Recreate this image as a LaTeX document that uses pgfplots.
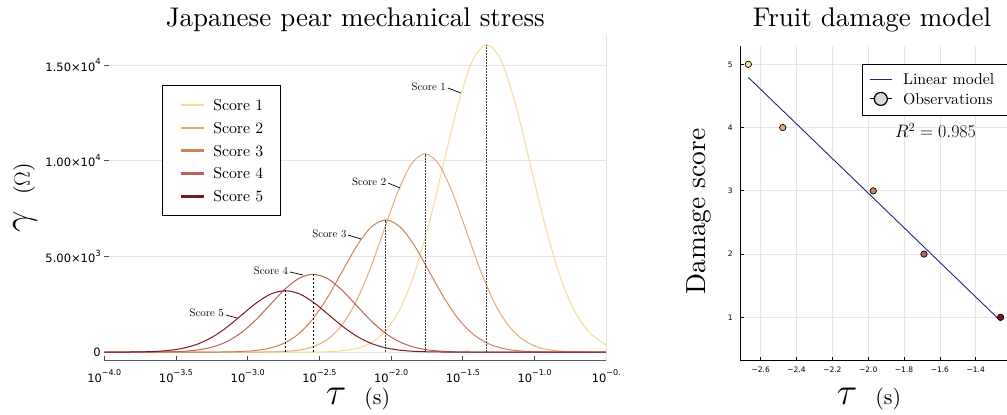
\documentclass[border=0pt]{standalone}
\usepackage{graphicx}
\usepackage{pgfplots}
\pgfplotsset{compat=1.18}
\usepackage{fontspec}
\setmainfont{lmroman10-regular.otf}[ItalicFont=lmroman10-italic.otf, BoldFont=lmroman10-bold.otf]
\newfontfamily\tickfont{DejaVu Sans}
\definecolor{sA}{RGB}{245,220,145}
\definecolor{sB}{RGB}{228,170,120}
\definecolor{sC}{RGB}{208,128,95}
\definecolor{sD}{RGB}{190,96,90}
\definecolor{sE}{RGB}{122,24,34}
\definecolor{navyc}{RGB}{35,35,125}
\newcommand{\sups}[1]{\raisebox{1.0ex}{\fontsize{8}{8}\selectfont #1}}
\newcommand{\supr}[1]{\raisebox{1.0ex}{\fontsize{8.5}{8.5}\selectfont #1}}
\newcommand{\bigsym}[1]{\scalebox{1.53}{\fontsize{24.88}{26}\selectfont$#1$}}
\begin{document}
\begin{tikzpicture}
\path[use as bounding box] (0pt,0pt) rectangle (1007pt,415pt);
% ---------------- left axis ----------------
\begin{axis}[
  at={(104.3pt,54.3pt)}, anchor=south west, scale only axis,
  width=502pt, height=325.7pt,
  xmin=-4, xmax=-0.5, ymin=-449, ymax=16568,
  axis x line*=bottom, axis y line*=left,
  y axis line style={draw=none},
  x axis line style={draw=black!65, line width=1.4pt},
  xtick={-4,-3.5,-3,-2.5,-2,-1.5,-1,-0.5},
  xticklabels={{10\sups{−4.0}},{10\sups{−3.5}},{10\sups{−3.0}},{10\sups{−2.5}},{10\sups{−2.0}},{10\sups{−1.5}},{10\sups{−1.0}},{10\sups{−0.}}},
  ytick={0,5000,10000,15000},
  yticklabels={{0},{5.00×10\supr{3}},{1.00×10\supr{4}},{1.50×10\supr{4}}},
  xticklabel style={font=\fontsize{11.5}{12}\tickfont, inner sep=1pt, yshift=-8pt},
  yticklabel style={font=\fontsize{11.5}{12}\tickfont},
  ymajorgrids, grid style={black!10, line width=0.7pt},
  tick align=inside, major tick length=5pt,
  tick style={black!70, line width=0.8pt},
  scaled y ticks=false,
  clip=false,
  legend style={at={(0.1143,0.8465)}, anchor=north west, draw=black, line width=1.2pt, fill=white,
    inner xsep=17pt, inner ysep=14pt, row sep=11.8pt, column sep=8pt,
    font=\fontsize{15.8}{19}\selectfont,
    nodes={inner sep=0pt, text height=11pt, text depth=0pt}},
  legend cell align=left,
  legend image code/.code={\draw[#1, line width=2.6pt] (0pt,0pt) -- (23.4pt,0pt);},
]
\addplot[sA, line width=1pt, smooth] coordinates {(-4,0) (-2.655,1) (-2.553,5) (-2.452,19) (-2.350,62) (-2.248,178) (-2.147,459) (-2.045,1055) (-1.943,2173) (-1.842,4005) (-1.740,6602) (-1.638,9740) (-1.536,12859) (-1.435,15193) (-1.333,16060) (-1.231,15193) (-1.130,12859) (-1.028,9740) (-0.926,6602) (-0.825,4005) (-0.723,2173) (-0.621,1055) (-0.519,456) (-0.5,385)};
\addlegendentry{Score 1}
\addplot[sB, line width=1pt, smooth] coordinates {(-4,0) (-3.021,1) (-2.924,3.5) (-2.828,12.5) (-2.731,40) (-2.634,115) (-2.538,296) (-2.441,681) (-2.344,1403) (-2.248,2585) (-2.151,4261) (-2.054,6287) (-1.957,8300) (-1.861,9806) (-1.764,10366) (-1.667,9806) (-1.571,8300) (-1.474,6287) (-1.377,4261) (-1.281,2585) (-1.184,1403) (-1.087,681) (-0.991,296) (-0.894,115) (-0.797,40) (-0.700,12.5) (-0.604,3.5) (-0.5,1)};
\addlegendentry{Score 2}
\addplot[sC, line width=1pt, smooth] coordinates {(-4,0) (-3.360,0.6) (-3.258,2) (-3.157,8) (-3.055,27) (-2.953,77) (-2.852,197) (-2.750,453) (-2.648,934) (-2.547,1721) (-2.445,2837) (-2.343,4186) (-2.241,5527) (-2.140,6529) (-2.038,6902) (-1.936,6529) (-1.835,5527) (-1.733,4186) (-1.631,2837) (-1.530,1721) (-1.428,934) (-1.326,453) (-1.224,197) (-1.123,77) (-1.021,27) (-0.919,8) (-0.818,2) (-0.716,0.6) (-0.5,0)};
\addlegendentry{Score 3}
\addplot[sD, line width=1pt, smooth] coordinates {(-4,0) (-3.845,0.3) (-3.745,1.4) (-3.645,5) (-3.545,16) (-3.445,45) (-3.345,116) (-3.245,267) (-3.145,550) (-3.045,1014) (-2.945,1671) (-2.845,2465) (-2.745,3255) (-2.645,3845) (-2.545,4065) (-2.445,3845) (-2.345,3255) (-2.245,2465) (-2.145,1671) (-2.045,1014) (-1.945,550) (-1.845,267) (-1.745,116) (-1.645,45) (-1.545,16) (-1.445,5) (-1.345,1.4) (-1.245,0.3) (-0.5,0)};
\addlegendentry{Score 4}
\addplot[sE, line width=1pt, smooth] coordinates {(-4,0.5) (-3.950,1.1) (-3.849,3.9) (-3.748,12.4) (-3.647,36) (-3.546,92) (-3.445,211) (-3.344,434) (-3.243,800) (-3.142,1319) (-3.041,1946) (-2.940,2569) (-2.839,3035) (-2.738,3208) (-2.637,3035) (-2.536,2569) (-2.435,1946) (-2.334,1319) (-2.233,800) (-2.132,434) (-2.031,211) (-1.930,92) (-1.829,36) (-1.728,12.4) (-1.627,3.9) (-1.526,1.1) (-1.425,0.3) (-0.5,0)};
\addlegendentry{Score 5}
% peak markers
\addplot[forget plot, black!75, dash pattern=on 2pt off 1pt, line width=0.8pt] coordinates {(-1.333,0) (-1.333,16060)};
\addplot[forget plot, black!75, dash pattern=on 2pt off 1pt, line width=0.8pt] coordinates {(-1.764,0) (-1.764,10366)};
\addplot[forget plot, black!75, dash pattern=on 2pt off 1pt, line width=0.8pt] coordinates {(-2.038,0) (-2.038,6902)};
\addplot[forget plot, black, dash pattern=on 2.5pt off 1.5pt, line width=0.8pt] coordinates {(-2.545,0) (-2.545,4065)};
\addplot[forget plot, black, dash pattern=on 2.5pt off 1.5pt, line width=0.8pt] coordinates {(-2.738,0) (-2.738,3208)};
% right frame line
\draw[black!12, line width=0.8pt] (rel axis cs:1,0) -- (rel axis cs:1,1);
% annotations
\begin{scope}[every node/.style={anchor=east, inner sep=0pt, font=\fontsize{10.8}{12}\selectfont}]
\node at (axis cs:-1.617,13847) {Score 1};
\draw[black, line width=0.7pt] (axis cs:-1.603,13795) -- (axis cs:-1.513,13534);
\node at (axis cs:-2.033,8888) {Score 2};
\draw[black, line width=0.7pt] (axis cs:-2.022,8835) -- (axis cs:-1.938,8574);
\node at (axis cs:-2.310,6171) {Score 3};
\draw[black, line width=0.7pt] (axis cs:-2.301,6119) -- (axis cs:-2.210,5910);
\node at (axis cs:-2.717,4237) {Score 4};
\draw[black, line width=0.7pt] (axis cs:-2.705,4185) -- (axis cs:-2.614,4028);
\node at (axis cs:-3.165,2043) {Score 5};
\draw[black, line width=0.7pt] (axis cs:-3.151,1938) -- (axis cs:-3.075,1782);
\end{scope}
\end{axis}
% ---------------- right axis ----------------
\begin{axis}[
  at={(740.7pt,54.3pt)}, anchor=south west, scale only axis,
  width=266pt, height=314.7pt,
  xmin=-2.7116, xmax=-1.2272, ymin=0.314, ymax=5.29,
  axis x line*=bottom, axis y line*=left,
  axis line style={black, line width=0.8pt},
  xtick={-2.6,-2.4,-2.2,-2.0,-1.8,-1.6,-1.4},
  xticklabels={−2.6,−2.4,−2.2,−2.0,−1.8,−1.6,−1.4},
  ytick={1,2,3,4,5}, yticklabels={1,2,3,4,5},
  xticklabel style={font=\fontsize{7.5}{8}\tickfont, yshift=-2.5pt},
  yticklabel style={font=\fontsize{7.5}{8}\tickfont, xshift=-4.5pt},
  grid=major, grid style={black!10, line width=0.7pt},
  tick align=inside, major tick length=3.5pt,
  tick style={black, line width=0.7pt},
  clip=false,
  legend style={at={(0.457,0.9418)}, anchor=north west, draw=black, line width=1pt, fill=white,
    inner xsep=6.7pt, inner ysep=9pt, row sep=7pt, column sep=11pt,
    font=\fontsize{15.8}{19}\selectfont,
    nodes={inner sep=0pt, text height=11pt, text depth=0pt}},
  legend cell align=left,
]
\addlegendimage{legend image code/.code={\draw[navyc, line width=1pt] (0pt,0pt) -- (21.7pt,0pt);}}
\addlegendentry{\makebox[112pt][l]{Linear model}}
\addlegendimage{legend image code/.code={\path (0pt,0pt) -- (21.7pt,0pt); \draw[black, fill=black!15, line width=1.2pt] (10.85pt,0pt) circle (6.5pt);}}
\addlegendentry{\makebox[112pt][l]{Observations}}
\addplot[forget plot, navyc, line width=0.9pt] coordinates {(-2.669,4.793) (-1.261,0.942)};
\addplot[forget plot, only marks, mark=*, mark size=3.2pt, mark options={draw=black, fill=sA, line width=0.7pt}] coordinates {(-2.669,5)};
\addplot[forget plot, only marks, mark=*, mark size=3.2pt, mark options={draw=black, fill=sB, line width=0.7pt}] coordinates {(-2.477,4)};
\addplot[forget plot, only marks, mark=*, mark size=3.2pt, mark options={draw=black, fill=sC, line width=0.7pt}] coordinates {(-1.972,3)};
\addplot[forget plot, only marks, mark=*, mark size=3.2pt, mark options={draw=black, fill=sD, line width=0.7pt}] coordinates {(-1.689,2)};
\addplot[forget plot, only marks, mark=*, mark size=3.2pt, mark options={draw=black, fill=sE, line width=0.7pt}] coordinates {(-1.261,1)};
\node[anchor=base, inner sep=0pt, font=\fontsize{17.28}{20}\selectfont] at (axis cs:-1.6245,3.84) {\scalebox{1.04}{$R^2 = 0.985$}};
\end{axis}
% ---------------- titles and labels ----------------
\node[anchor=base, inner sep=0pt, font=\fontsize{27}{30}\selectfont] at (355.3pt,388pt) {Japanese pear mechanical stress};
\node[anchor=base, inner sep=0pt, font=\fontsize{27}{30}\selectfont] at (872pt,388pt) {Fruit damage model};
\node[anchor=base, inner sep=0pt] at (358pt,10pt) {\bigsym{\tau}\hspace{18pt}{\fontsize{22}{26}\selectfont(s)}};
\node[anchor=base, inner sep=0pt] at (869pt,10pt) {\bigsym{\tau}\hspace{18pt}{\fontsize{22}{26}\selectfont(s)}};
\node[anchor=base, inner sep=0pt, rotate=90] at (29.5pt,217.5pt) {\bigsym{\gamma}\hspace{16pt}{\fontsize{20.74}{26}\selectfont\scalebox{1.06}{($\Omega$)}}};
\node[anchor=base, inner sep=0pt, rotate=90, font=\fontsize{27.5}{30}\selectfont] at (705.8pt,203.5pt) {Damage score};
\end{tikzpicture}
\end{document}
